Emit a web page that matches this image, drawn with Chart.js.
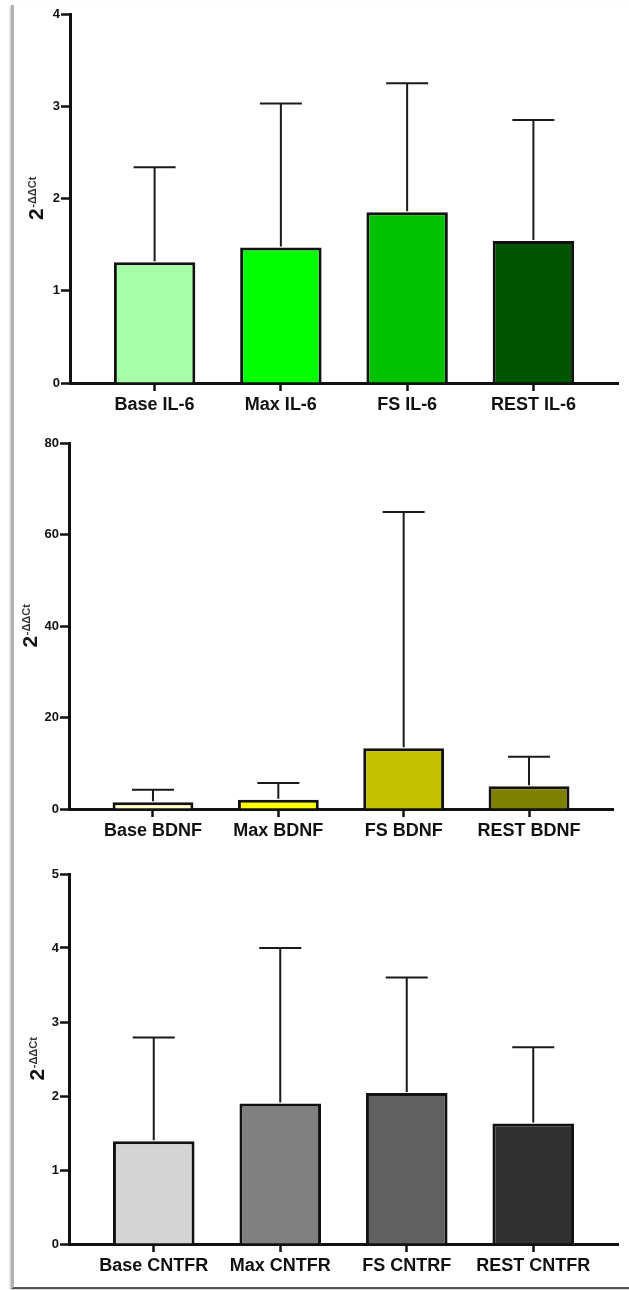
<!DOCTYPE html>
<html>
<head>
<meta charset="utf-8">
<title>2-ΔΔCt expression: IL-6, BDNF, CNTFR</title>
<script src="https://cdn.jsdelivr.net/npm/chart.js@4.4.1/dist/chart.umd.min.js"></script>
<style>
  html, body { margin: 0; padding: 0; background: #fff; }
  #page { position: relative; width: 629px; height: 1290px; overflow: hidden; background: #fff; }
  .frame {
    position: absolute; left: 11px; top: 5px; width: 620px; height: 1282px;
    border-left: 3px solid #b2b2b2; border-bottom: 2px solid #555;
    box-shadow: -1px 1px 2px rgba(0,0,0,0.25);
  }
  canvas { position: absolute; left: 0; }
</style>
</head>
<body>
<div id="page">
  <div class="frame"></div>
  <canvas id="il6" width="629" height="420" style="top:0px;width:629px;height:420px"></canvas>
  <canvas id="bdnf" width="629" height="430" style="top:420px;width:629px;height:430px"></canvas>
  <canvas id="cntfr" width="629" height="440" style="top:850px;width:629px;height:440px"></canvas>
</div>
<script>
// IL-6 panel
const il6Labels = ['Base IL-6', 'Max IL-6', 'FS IL-6', 'REST IL-6'];
const il6Mean = [1.31, 1.47, 1.85, 1.54];
const il6Sd = [1.03, 1.56, 1.40, 1.31];
const il6Ticks = [0, 1, 2, 3, 4];
const il6Colors = ['#a6ffa6', '#00ff00', '#00c200', '#005400'];

// BDNF panel
const bdnfLabels = ['Base BDNF', 'Max BDNF', 'FS BDNF', 'REST BDNF'];
const bdnfMean = [1.45, 2.0, 13.3, 4.95];
const bdnfSd = [2.75, 3.7, 51.6, 6.45];
const bdnfTicks = [0, 20, 40, 60, 80];
const bdnfColors = ['#ffffc8', '#ffff00', '#c2c200', '#808000'];

// CNTFR panel
const cntfrLabels = ['Base CNTFR', 'Max CNTFR', 'FS CNTRF', 'REST CNTFR'];
const cntfrMean = [1.39, 1.90, 2.04, 1.63];
const cntfrSd = [1.40, 2.10, 1.56, 1.03];
const cntfrTicks = [0, 1, 2, 3, 4, 5];
const cntfrColors = ['#d4d4d4', '#808080', '#606060', '#303030'];

const FONT = '"Liberation Sans", Arial, Helvetica, sans-serif';
const INK = '#111';

// Upper SD whiskers with a horizontal cap
const errorBars = {
  id: 'errorBars',
  afterDatasetsDraw(chart, args, opts) {
    const meta = chart.getDatasetMeta(0);
    const ys = chart.scales.y;
    const ctx = chart.ctx;
    const data = chart.data.datasets[0].data;
    ctx.save();
    ctx.strokeStyle = '#1a1a1a';
    ctx.lineWidth = 2;
    meta.data.forEach((bar, i) => {
      const yTop = ys.getPixelForValue(data[i].y + opts.sd[i]);
      ctx.beginPath();
      ctx.moveTo(bar.x, bar.y - 1);
      ctx.lineTo(bar.x, yTop);
      ctx.moveTo(bar.x - 21, yTop);
      ctx.lineTo(bar.x + 21, yTop);
      ctx.stroke();
    });
    ctx.restore();
  }
};

// Rotated y-axis title "2^-ΔΔCt" with a superscript exponent
const yTitle = {
  id: 'yTitle',
  afterDraw(chart, args, opts) {
    const { ctx, chartArea } = chart;
    const cy = (chartArea.top + chartArea.bottom) / 2;
    ctx.save();
    ctx.translate(opts.x, cy);
    ctx.rotate(-Math.PI / 2);
    ctx.fillStyle = INK;
    ctx.textBaseline = 'alphabetic';
    ctx.textAlign = 'left';
    const big = 'bold 21px ' + FONT;
    const small = 'bold 11px ' + FONT;
    ctx.font = big;
    const w2 = ctx.measureText('2').width;
    ctx.font = small;
    const ws = ctx.measureText('-ΔΔCt').width;
    const x0 = -(w2 + ws) / 2;
    ctx.font = big;
    ctx.fillText('2', x0, 0);
    ctx.font = small;
    ctx.fillStyle = '#333';
    ctx.fillText('-ΔΔCt', x0 + w2 + 0.5, -7);
    ctx.restore();
  }
};

function makePanel(id, labels, mean, sd, ticks, colors, box) {
  const canvas = document.getElementById(id);
  return new Chart(canvas, {
    type: 'bar',
    data: {
      datasets: [{
        data: mean.map((v, i) => ({ x: i, y: v })),
        backgroundColor: colors,
        borderColor: INK,
        borderWidth: 3,
        borderSkipped: 'start',
        categoryPercentage: 1,
        barPercentage: 0.645
      }]
    },
    options: {
      responsive: false,
      animation: false,
      events: [],
      layout: { padding: { top: box.top, left: 0, right: canvas.width - box.right, bottom: 0 } },
      plugins: {
        legend: { display: false },
        tooltip: { enabled: false },
        errorBars: { sd: sd },
        yTitle: { x: box.titleX }
      },
      scales: {
        x: {
          type: 'linear',
          offset: false,
          min: -0.67,
          max: labels.length - 1 + 0.67,
          afterBuildTicks: s => { s.ticks = labels.map((_, i) => ({ value: i })); },
          afterFit: s => { s.height = canvas.height - box.bottom; },
          ticks: {
            callback: v => labels[v],
            font: { family: FONT, weight: 'bold', size: 18 },
            color: INK,
            padding: 3,
            maxRotation: 0,
            autoSkip: false
          },
          grid: { offset: false, drawOnChartArea: false, drawTicks: true, tickLength: 8, tickWidth: 2.5, tickColor: INK },
          border: { display: true, width: 3, color: INK }
        },
        y: {
          min: 0,
          max: ticks[ticks.length - 1],
          afterBuildTicks: s => { s.ticks = ticks.map(v => ({ value: v })); },
          afterFit: s => { s.width = box.left; },
          ticks: {
            font: { family: FONT, weight: 'bold', size: 13 },
            color: INK,
            padding: 1
          },
          grid: { drawOnChartArea: false, drawTicks: true, tickLength: 9, tickWidth: 2.5, tickColor: INK },
          border: { display: true, width: 3, color: INK }
        }
      }
    },
    plugins: [errorBars, yTitle]
  });
}

makePanel('il6', il6Labels, il6Mean, il6Sd, il6Ticks, il6Colors,
  { left: 70, top: 14, right: 618, bottom: 383, titleX: 43 });
makePanel('bdnf', bdnfLabels, bdnfMean, bdnfSd, bdnfTicks, bdnfColors,
  { left: 69, top: 23, right: 613, bottom: 389, titleX: 37 });
makePanel('cntfr', cntfrLabels, cntfrMean, cntfrSd, cntfrTicks, cntfrColors,
  { left: 69, top: 24, right: 618, bottom: 394, titleX: 44 });
</script>
</body>
</html>
